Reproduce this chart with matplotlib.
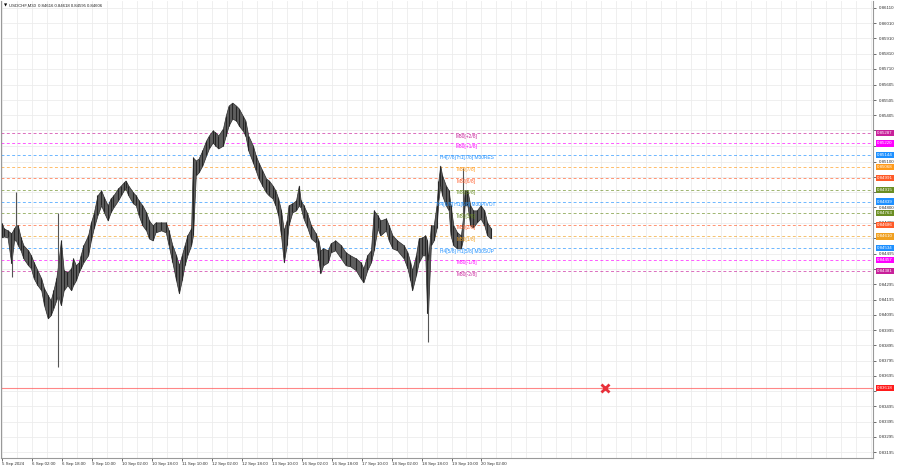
import matplotlib
matplotlib.use('Agg')
import matplotlib.pyplot as plt
import numpy as np

plt.rcParams['font.family'] = ['Liberation Sans', 'DejaVu Sans']

title = 'USDCHF,M30  0.84616 0.84618 0.84595 0.84606'

# M30 bar index (0 = 5 Sep 10:00), high / low of each group of bars
bar_t = [0, 2, 6, 10, 13, 15, 17, 20, 23, 28, 31, 34, 38, 42, 45, 49, 52, 55, 58, 60,
         63, 66, 70, 74, 76, 79, 82, 84, 87, 92, 95, 98, 102, 106, 109, 113, 116, 119, 124, 127,
         130, 132, 135, 140, 143, 146, 150, 154, 157, 161, 164, 170, 175, 178, 182, 186, 189, 192, 195, 198,
         202, 204, 207, 210, 214, 218, 221, 225, 228, 231, 236, 239, 242, 246, 250, 253, 257, 260, 263, 268,
         271, 274, 278, 282, 285, 289, 292, 295, 298, 301, 304, 306, 310, 314, 317, 319, 322, 326, 330, 335,
         338, 340, 343, 348, 351, 356, 362, 367, 372, 378, 383, 386, 390, 394, 397, 401, 404, 410, 413, 417,
         422, 429, 433, 436, 438, 442, 445, 449, 452, 454, 455, 458, 461, 464, 466, 468, 470, 474, 477, 479,
         482, 486, 490, 492, 494, 497, 500, 503, 507, 511, 515, 518, 522]
bar_hi = [0.84696, 0.84663, 0.84650, 0.84630, 0.84663, 0.84683, 0.84683, 0.84604, 0.84552, 0.84519,
          0.84486, 0.84440, 0.84388, 0.84335, 0.84270, 0.84224, 0.84191, 0.84257, 0.84335, 0.84421,
          0.84584, 0.84388, 0.84375, 0.84401, 0.84466, 0.84421, 0.84440, 0.84486, 0.84552, 0.84617,
          0.84702, 0.84761, 0.84879, 0.84912, 0.84866, 0.84814, 0.84859, 0.84879, 0.84925, 0.84944,
          0.84964, 0.84977, 0.84944, 0.84899, 0.84879, 0.84846, 0.84814, 0.84768, 0.84715, 0.84683,
          0.84702, 0.84702, 0.84702, 0.84650, 0.84552, 0.84486, 0.84421, 0.84486, 0.84552, 0.84617,
          0.84663, 0.85128, 0.85108, 0.85121, 0.85174, 0.85239, 0.85272, 0.85305, 0.85292, 0.85272,
          0.85318, 0.85403, 0.85468, 0.85488, 0.85468, 0.85449, 0.85403, 0.85370, 0.85272, 0.85206,
          0.85141, 0.85095, 0.85043, 0.84990, 0.84977, 0.84944, 0.84912, 0.84859, 0.84781, 0.84650,
          0.84715, 0.84814, 0.84827, 0.84846, 0.84944, 0.84846, 0.84814, 0.84761, 0.84683, 0.84630,
          0.84584, 0.84519, 0.84532, 0.84519, 0.84565, 0.84584, 0.84552, 0.84506, 0.84486, 0.84466,
          0.84440, 0.84401, 0.84486, 0.84519, 0.84781, 0.84748, 0.84715, 0.84728, 0.84683, 0.84617,
          0.84584, 0.84552, 0.84506, 0.84440, 0.84388, 0.84486, 0.84597, 0.84604, 0.84617, 0.84584,
          0.84453, 0.84683, 0.84683, 0.84814, 0.84977, 0.85075, 0.85010, 0.84944, 0.84912, 0.84814,
          0.84683, 0.84637, 0.84617, 0.84715, 0.84912, 0.84912, 0.84814, 0.84781, 0.84781, 0.84814,
          0.84781, 0.84702, 0.84663]
bar_lo = [0.84604, 0.84610, 0.84604, 0.84434, 0.84584, 0.84584, 0.84552, 0.84519, 0.84466, 0.84421,
          0.84401, 0.84335, 0.84290, 0.84257, 0.84159, 0.84073, 0.84093, 0.84139, 0.84191, 0.84224,
          0.84159, 0.84257, 0.84290, 0.84257, 0.84290, 0.84322, 0.84375, 0.84401, 0.84440, 0.84486,
          0.84584, 0.84663, 0.84748, 0.84814, 0.84768, 0.84715, 0.84768, 0.84800, 0.84846, 0.84879,
          0.84912, 0.84925, 0.84879, 0.84827, 0.84814, 0.84748, 0.84683, 0.84650, 0.84597, 0.84584,
          0.84637, 0.84650, 0.84637, 0.84552, 0.84440, 0.84322, 0.84237, 0.84322, 0.84421, 0.84486,
          0.84552, 0.84617, 0.85010, 0.85030, 0.85075, 0.85141, 0.85187, 0.85226, 0.85206, 0.85187,
          0.85206, 0.85272, 0.85337, 0.85383, 0.85370, 0.85337, 0.85305, 0.85272, 0.85174, 0.85095,
          0.85043, 0.84990, 0.84944, 0.84899, 0.84879, 0.84859, 0.84814, 0.84748, 0.84617, 0.84440,
          0.84552, 0.84683, 0.84768, 0.84781, 0.84814, 0.84800, 0.84728, 0.84669, 0.84597, 0.84571,
          0.84453, 0.84368, 0.84421, 0.84440, 0.84506, 0.84519, 0.84466, 0.84421, 0.84414, 0.84388,
          0.84335, 0.84309, 0.84388, 0.84440, 0.84519, 0.84663, 0.84617, 0.84650, 0.84584, 0.84532,
          0.84519, 0.84466, 0.84401, 0.84322, 0.84257, 0.84355, 0.84440, 0.84486, 0.84486, 0.84106,
          0.84126, 0.84552, 0.84584, 0.84663, 0.84846, 0.84944, 0.84879, 0.84814, 0.84781, 0.84617,
          0.84552, 0.84532, 0.84532, 0.84584, 0.84814, 0.84814, 0.84683, 0.84669, 0.84702, 0.84728,
          0.84683, 0.84617, 0.84597]

# long single-bar shadows
wick_t = [11, 15, 60, 455, 492]
wick_hi = [0.84630, 0.84899, 0.84761, 0.84453, 0.85062]
wick_lo = [0.84342, 0.84584, 0.83753, 0.83916, 0.84584]

# Murrey math levels
level_price = [0.85287, 0.85220, 0.85144, 0.85068, 0.84991, 0.84915, 0.84839,
               0.84763, 0.84686, 0.84610, 0.84534, 0.84457, 0.84381]
level_name = ['M30[+2/8]', 'M30[+1/8]', 'H4[7/8] H1[7/8] M30RES', 'M30[7/8]', 'M30[6/8]',
              'M30[5/8]', 'H4[6/8] H1[6/8] M30PIVOT', 'M30[3/8]', 'M30[2/8]', 'M30[1/8]',
              'H4[5/8] H1[5/8] M30SUP', 'M30[-1/8]', 'M30[-2/8]']
level_color = ['#c8209a', '#ff00ff', '#1e90ff', '#ff9a1a', '#ff5a28', '#6b8e23', '#1e90ff',
               '#6b8e23', '#ff5a28', '#f0a020', '#1e90ff', '#ff00ff', '#c8209a']

red_price = 0.83618
cross_t = 644

time_t = [0, 32, 64, 96, 128, 160, 192, 224, 256, 288, 320, 352, 384, 416, 448, 480, 512]
time_lab = ['5 Sep 2024', '6 Sep 02:00', '6 Sep 18:00', '9 Sep 10:00', '10 Sep 02:00',
            '10 Sep 18:00', '11 Sep 10:00', '12 Sep 02:00', '12 Sep 18:00', '13 Sep 10:00',
            '16 Sep 02:00', '16 Sep 18:00', '17 Sep 10:00', '18 Sep 02:00', '18 Sep 18:00',
            '19 Sep 10:00', '20 Sep 02:00']

price_ticks = [0.86110, 0.86010, 0.85910, 0.85810, 0.85710, 0.85605, 0.85505, 0.85405,
               0.85305, 0.85205, 0.85100, 0.85000, 0.84900, 0.84800, 0.84700, 0.84600,
               0.84495, 0.84395, 0.84295, 0.84195, 0.84095, 0.83995, 0.83895, 0.83795,
               0.83695, 0.83595, 0.83495, 0.83395, 0.83295, 0.83195]
# tick labels covered by the level price boxes
hidden_ticks = [0.85305, 0.85205, 0.85000, 0.84900, 0.84600, 0.83595]


fig = plt.figure(figsize=(9, 4.68), dpi=100)
ax = fig.add_axes([0.001, 0.0214, 0.969, 0.977])
ax.set_xlim(-1.07, 930)
ax.set_ylim(0.83157, 0.86156)

# grid
for p in price_ticks:
    ax.axhline(p, color='#ececec', lw=0.6, zorder=0)
for t in np.arange(0, 931, 16):
    ax.axvline(t, color='#ececec', lw=0.6, zorder=0)

# levels
for p, c in zip(level_price, level_color):
    ax.axhline(p, color=c, lw=0.7, alpha=0.65, dashes=(3, 2.5), zorder=1)
ax.axhline(red_price, color='#ff5555', lw=0.8, alpha=0.7, zorder=1)

# price bars
ax.fill_between(bar_t, bar_lo, bar_hi, facecolor='#5e5e5e', edgecolor='#2a2a2a', lw=0.5, zorder=3)
ax.vlines(bar_t, bar_lo, bar_hi, color='#262626', lw=0.8, zorder=3)
ax.vlines(wick_t, wick_lo, wick_hi, color='#555555', lw=0.8, zorder=3)

ax.plot([cross_t], [red_price], marker='x', color='#e8303a', ms=6, mew=2, zorder=4)

# level labels in the chart
for p, n, c in zip(level_price, level_name, level_color):
    ax.text(496, p - 0.00003, n, color=c, fontsize=3.5, ha='center', va='top', zorder=5)

# price boxes on the right
trans = ax.get_yaxis_transform()
for p, c in zip(level_price + [red_price], level_color + ['#ff1a1a']):
    ax.text(1.005, p, '%.5f' % p, transform=trans, color='white', fontsize=3.2,
            ha='left', va='center', clip_on=False, zorder=6,
            bbox=dict(boxstyle='square,pad=0.25', fc=c, ec=c, lw=0))

ax.yaxis.tick_right()
ax.set_yticks(price_ticks)
ax.set_yticklabels(['' if p in hidden_ticks else '%.5f' % p for p in price_ticks])
ax.set_xticks(time_t)
ax.set_xticklabels(time_lab, ha='left')
ax.tick_params(axis='y', labelsize=3.2, length=2, width=0.5, pad=2, colors='#333333')
ax.tick_params(axis='x', labelsize=3.2, length=2, width=0.5, pad=1, colors='#333333')

for s in ax.spines.values():
    s.set_color('#999999')
    s.set_linewidth(0.8)
ax.spines['top'].set_visible(False)

ax.text(0.004, 0.993, '\u25bc', transform=ax.transAxes, fontsize=3, ha='left', va='top',
        family=['DejaVu Sans'])
ax.text(0.009, 0.993, title, transform=ax.transAxes, fontsize=3.1, ha='left', va='top',
        color='#222222')

plt.savefig('out.png', dpi=100)
